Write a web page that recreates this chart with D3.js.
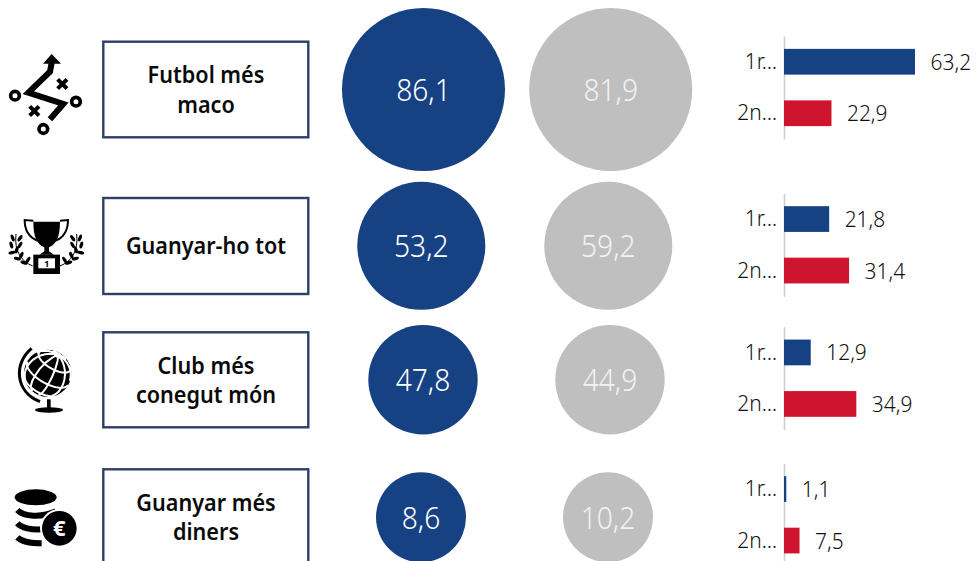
<!DOCTYPE html>
<html>
<head>
<meta charset="utf-8">
<script src="https://d3js.org/d3.v7.min.js"></script>
<style>
html, body { margin: 0; padding: 0; background: #fff; }
svg { display: block; }
text { font-family: "Noto Sans", sans-serif; }
</style>
</head>
<body>
<div id="chart"></div>
<script>
// data
var categories = ["Futbol més maco", "Guanyar-ho tot", "Club més conegut món", "Guanyar més diners"];
var labelLines = [["Futbol més", "maco"], ["Guanyar-ho tot"], ["Club més", "conegut món"], ["Guanyar més", "diners"]];
var circleA = [86.1, 53.2, 47.8, 8.6];
var circleB = [81.9, 59.2, 44.9, 10.2];
var rounds = ["1r…", "2n…"];
var round1 = [63.2, 21.8, 12.9, 1.1];
var round2 = [22.9, 31.4, 34.9, 7.5];

var width = 976, height = 561;
var blue = "#164284", red = "#cf1430", grey = "#bfbfbf", boxLine = "#2d3f66", ink = "#111";

var fmt = function(v) { return d3.format(".1f")(v).replace(".", ","); };

// the original face is narrower than Noto Sans
function squeeze(sel, k) {
    sel.each(function() {
        d3.select(this)
          .attr("textLength", this.getComputedTextLength() * k)
          .attr("lengthAdjust", "spacingAndGlyphs");
    });
}

var svg = d3.select("#chart").append("svg")
    .attr("width", width)
    .attr("height", height)
    .attr("viewBox", "0 0 " + width + " " + height);

// the rows are not evenly spaced in the original
var circleY = d3.scaleOrdinal().domain(categories).range([89.5, 245.8, 379.7, 517.3]);
var circleXA = d3.scaleOrdinal().domain(categories).range([423.5, 421.3, 423, 421]);
var circleXB = d3.scaleOrdinal().domain(categories).range([610.7, 608.3, 610, 608]);
var boxTop = d3.scaleOrdinal().domain(categories).range([41.7, 198, 332.3, 469.3]);
var boxBottom = d3.scaleOrdinal().domain(categories).range([137.3, 294, 427.3, 566]);
var axisTop = d3.scaleOrdinal().domain(categories).range([36, 193.3, 326.7, 463.3]);

// both circles of a row share one size, taken from the bigger value
var radius = d3.scaleLinear().domain([10.2, 47.8, 59.2, 86.1]).range([45, 54.7, 64, 81.5]);
var barX = d3.scaleLinear().domain([0, 63.2]).range([784, 915]);

var rows = svg.selectAll(".row")
    .data(categories)
    .enter().append("g")
    .attr("class", "row");

// label boxes
rows.append("rect")
    .attr("x", 103.3)
    .attr("y", function(d) { return boxTop(d); })
    .attr("width", 205)
    .attr("height", function(d) { return boxBottom(d) - boxTop(d); })
    .attr("fill", "#fff")
    .attr("stroke", boxLine)
    .attr("stroke-width", 2.4);

var baselines = [[83, 112.5], [253.5], [374, 403], [510.5, 539.5]];
rows.each(function(d, i) {
    d3.select(this).selectAll(".lab")
      .data(labelLines[i])
      .enter().append("text")
      .attr("class", "lab")
      .attr("x", 206)
      .attr("y", function(t, j) { return baselines[i][j]; })
      .attr("text-anchor", "middle")
      .attr("font-size", 22.5)
      .attr("font-weight", 600)
      .attr("fill", "#0a0a0a")
      .text(function(t) { return t; })
      .call(squeeze, 0.96);
});

// circles
function drawCircles(values, xpos, fill, textFill) {
    rows.append("circle")
        .attr("cx", function(d) { return xpos(d); })
        .attr("cy", function(d) { return circleY(d); })
        .attr("r", function(d, i) { return radius(Math.max(circleA[i], circleB[i])); })
        .attr("fill", fill);
    rows.append("text")
        .attr("x", function(d) { return xpos(d); })
        .attr("y", function(d) { return circleY(d) + 11.5; })
        .attr("text-anchor", "middle")
        .attr("font-size", 32)
        .attr("font-weight", 300)
        .attr("fill", textFill)
        .text(function(d, i) { return fmt(values[i]); })
        .call(squeeze, 0.88);
}
drawCircles(circleA, circleXA, blue, "#fff");
drawCircles(circleB, circleXB, grey, "#f2f2f2");

// small bar panels
rows.each(function(d, i) {
    var g = d3.select(this);
    var top = axisTop(d);
    var y = d3.scaleBand().domain(rounds).range([top, top + 103]).paddingInner(0.5).paddingOuter(0.25);
    var vals = [round1[i], round2[i]];

    var ax = g.append("g")
        .attr("transform", "translate(784,0)")
        .call(d3.axisLeft(y).tickSize(0).tickPadding(7));
    ax.select(".domain").attr("stroke", "#cfcfcf").attr("stroke-width", 1.6);
    ax.selectAll("text")
        .attr("font-size", 22.5)
        .attr("font-family", '"Noto Sans", sans-serif')
        .attr("font-weight", 300)
        .attr("fill", ink)
        .call(squeeze, 0.93);

    g.selectAll(".bar")
      .data(vals)
      .enter().append("rect")
      .attr("class", "bar")
      .attr("x", barX(0))
      .attr("y", function(v, j) { return y(rounds[j]); })
      .attr("width", function(v) { return barX(v) - barX(0); })
      .attr("height", y.bandwidth())
      .attr("fill", function(v, j) { return j == 0 ? blue : red; });

    g.selectAll(".val")
      .data(vals)
      .enter().append("text")
      .attr("class", "val")
      .attr("x", function(v) { return barX(v) + 15.5; })
      .attr("y", function(v, j) { return y(rounds[j]) + y.bandwidth() / 2 + 8; })
      .attr("font-size", 22.5)
      .attr("font-weight", 300)
      .attr("fill", ink)
      .text(function(v) { return fmt(v); })
      .call(squeeze, 0.93);
});

// icons, drawn in the 3x coordinates of the crops they were measured on
var icons = svg.append("g").attr("class", "icons");

function tactics() {
    var g = icons.append("g").attr("transform", "translate(0,30) scale(0.3333)");
    g.append("path").attr("d", "M155,72 L183,101 L129,101 Z").attr("fill", "#000");
    g.append("path").attr("d", "M155,98 L150,125 L85,188 L190,222 L150,268")
        .attr("fill", "none").attr("stroke", "#000").attr("stroke-width", 18);
    [[45, 197], [228, 215], [130, 297]].forEach(function(p) {
        g.append("circle").attr("cx", p[0]).attr("cy", p[1]).attr("r", 13)
            .attr("fill", "none").attr("stroke", "#000").attr("stroke-width", 11);
    });
    [[187, 162], [103, 243]].forEach(function(p) {
        g.append("path")
            .attr("d", "M" + (p[0] - 14) + "," + (p[1] - 14) + "L" + (p[0] + 14) + "," + (p[1] + 14) +
                       "M" + (p[0] + 14) + "," + (p[1] - 14) + "L" + (p[0] - 14) + "," + (p[1] + 14))
            .attr("stroke", "#000").attr("stroke-width", 12);
    });
}

function trophy() {
    var g = icons.append("g").attr("transform", "translate(0,30) scale(0.3333)");
    // cup
    g.append("path").attr("d", "M100,575 L180,575 C180,620 170,642 147,652 L147,664 L162,674 L118,674 L133,664 L133,652 C110,642 100,620 100,575 Z")
        .attr("fill", "#000");
    // handles
    g.append("path").attr("d", "M100,572 L74,570 C74,600 88,622 112,632 M180,572 L204,570 C204,600 190,622 168,632")
        .attr("fill", "none").attr("stroke", "#000").attr("stroke-width", 6);
    // plinth
    g.append("rect").attr("x", 100).attr("y", 674).attr("width", 80).attr("height", 58).attr("fill", "#000");
    g.append("rect").attr("x", 115).attr("y", 685).attr("width", 50).attr("height", 30).attr("fill", "#fff");
    g.append("text").attr("x", 140).attr("y", 711).attr("text-anchor", "middle")
        .attr("font-size", 26).attr("font-weight", 700).attr("fill", "#000").text("1");
    // laurels
    var leaves = [[84, 690, 30], [72, 698, 110], [64, 676, 25], [52, 686, 105], [50, 660, 15], [36, 668, 75],
                  [60, 645, 30], [34, 645, 165], [60, 625, 35], [38, 624, 160]];
    leaves.forEach(function(l) {
        [0, 1].forEach(function(m) {
            var x = m ? 278 - l[0] : l[0];
            var a = m ? -l[2] : l[2];
            g.append("ellipse").attr("rx", 5).attr("ry", 11)
                .attr("transform", "translate(" + x + "," + l[1] + ") rotate(" + a + ")")
                .attr("fill", "#000");
        });
    });
    g.append("path").attr("d", "M98,708 C65,695 42,665 48,612 M180,708 C213,695 236,665 230,612")
        .attr("fill", "none").attr("stroke", "#000").attr("stroke-width", 3);
}

function globe() {
    var g = icons.append("g").attr("transform", "translate(0,320) scale(0.3333)");
    var proj = d3.geoOrthographic().scale(70).translate([143, 160]).rotate([-25, -25, -30]).clipAngle(90);
    var path = d3.geoPath(proj);
    g.append("circle").attr("cx", 143).attr("cy", 160).attr("r", 71).attr("fill", "#000");
    g.append("path").datum(d3.geoGraticule().step([40, 40])()).attr("d", path)
        .attr("fill", "none").attr("stroke", "#fff").attr("stroke-width", 6);
    // stand
    g.append("path").attr("d", "M95,85 C40,130 45,215 120,245")
        .attr("fill", "none").attr("stroke", "#000").attr("stroke-width", 9);
    g.append("rect").attr("x", 141).attr("y", 238).attr("width", 11).attr("height", 30).attr("fill", "#000");
    g.append("ellipse").attr("cx", 147).attr("cy", 270).attr("rx", 42).attr("ry", 8).attr("fill", "#000");
}

function coins() {
    var g = icons.append("g").attr("transform", "translate(0,320) scale(0.3333)");
    g.append("ellipse").attr("cx", 107).attr("cy", 532).attr("rx", 63).attr("ry", 24).attr("fill", "#000");
    g.append("path").attr("d", "M52,570 C70,590 125,594 168,574 M52,610 C64,624 95,630 125,628 M52,652 C64,664 95,670 125,670")
        .attr("fill", "none").attr("stroke", "#000").attr("stroke-width", 18);
    g.append("circle").attr("cx", 178).attr("cy", 625).attr("r", 58).attr("fill", "#fff");
    g.append("circle").attr("cx", 178).attr("cy", 625).attr("r", 52).attr("fill", "#000");
    g.append("text").attr("x", 178).attr("y", 649).attr("text-anchor", "middle")
        .attr("font-size", 66).attr("font-weight", 700).attr("fill", "#fff").text("€");
}

tactics();
trophy();
globe();
coins();
</script>
</body>
</html>
